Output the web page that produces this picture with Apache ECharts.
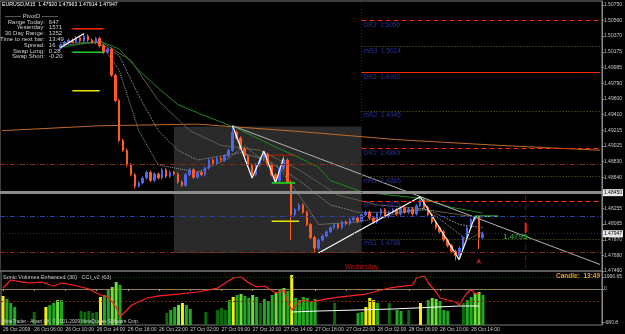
<!DOCTYPE html>
<html><head><meta charset="utf-8">
<script src="https://cdn.jsdelivr.net/npm/echarts@6/dist/echarts.min.js"></script>
<style>html,body{margin:0;padding:0;background:#000;}#c{width:625px;height:334px;}</style>
</head><body><div id="c"></div>
<script>
// ---------------- data ----------------
const slotCount = 154;                       // M30 slots across the chart
const timeTickLabels = ['26 Oct 2009','26 Oct 06:00','26 Oct 10:00','26 Oct 14:00','26 Oct 18:00','26 Oct 22:00',
  '27 Oct 02:00','27 Oct 06:00','27 Oct 10:00','27 Oct 14:00','27 Oct 18:00','27 Oct 22:00',
  '28 Oct 02:00','28 Oct 06:00','28 Oct 10:00','28 Oct 14:00'];
const priceTicks = [1.50750,1.50560,1.50370,1.50175,1.49985,1.49790,1.49600,1.49410,1.49215,1.49025,
  1.48830,1.48640,1.48450,1.48255,1.48065,1.47870,1.47680,1.47490];
const subTickValues = [100, 0, -280];
const subTickLabels = ['1966.65', '0', '-680.8'];

const firstCandleSlot = 15;
const firstOpen = 1.5022;
const closes = [
 1.5026,1.5029,1.5032,1.5030,1.5035,1.5031,1.5037,1.5032,1.5029,1.5034,
 1.5025,1.5017,1.5021,1.4989,1.4958,1.4909,1.4897,1.4879,1.4867,1.4853,
 1.4857,1.4863,1.4870,1.4860,1.4868,1.4863,1.4873,1.4865,1.4870,1.4868,
 1.4858,1.4854,1.4867,1.4873,1.4864,1.4870,1.4867,1.4875,1.4885,1.4881,
 1.4887,1.4885,1.4890,1.4897,1.4919,1.4912,1.4899,1.4890,1.4879,1.4867,
 1.4879,1.4887,1.4892,1.4879,1.4867,1.4860,1.4875,1.4885,1.4858,1.4818,
 1.4824,1.4830,1.4821,1.4806,1.4790,1.4777,1.4787,1.4792,1.4797,1.4802,
 1.4806,1.4802,1.4809,1.4807,1.4812,1.4814,1.4810,1.4818,1.4821,1.4814,
 1.4809,1.4819,1.4824,1.4816,1.4821,1.4824,1.4819,1.4826,1.4821,1.4825,
 1.4819,1.4829,1.4836,1.4827,1.4818,1.4809,1.4802,1.4797,1.4787,1.4780,
 1.4773,1.4768,1.4777,1.4790,1.4802,1.4812,1.4814,1.4790,1.4795];
const spikeHighs = [[21,1.5040],[59,1.4927],[107,1.4840],[72,1.4890]];
const spikeLows  = [[34,1.4850],[74,1.4787],[80,1.4771],[116,1.4762],[122,1.4776]];
const wick = 0.0002;

const maOrange = [[0,1.4921],[25,1.4927],[50,1.4929],[76,1.4920],[101,1.4910],[127,1.4903],[153,1.4897]];
const maGreen  = [[15,1.5023],[25,1.5031],[30,1.5021],[35,1.4995],[40,1.4973],[45,1.4953],[50,1.4943],[60,1.4924],
  [70,1.4901],[76,1.4888],[81,1.4876],[84,1.4860],[92,1.4846],[107,1.4838],[115,1.4827],[123,1.4820]];
const maGray1 = [[15,1.5029],[25,1.5029],[30,1.4995],[35,1.4921],[40,1.4879],[50,1.4870],[58,1.4887],[62,1.4903],
  [66,1.4887],[71,1.4875],[76,1.4842],[81,1.4806],[91,1.4809],[101,1.4819],[108,1.4826],[113,1.4809],[119,1.4787],[123,1.4797]];
const maGray2 = [[15,1.5026],[25,1.5029],[30,1.5013],[35,1.4964],[40,1.4921],[45,1.4897],[50,1.4885],[61,1.4894],
  [68,1.4885],[76,1.4860],[84,1.4830],[91,1.4821],[101,1.4821],[109,1.4824],[117,1.4806],[123,1.4802]];
const maGray3 = [[25,1.5031],[33,1.5007],[40,1.4958],[48,1.4921],[56,1.4903],[66,1.4897],[76,1.4873],[86,1.4842],
  [96,1.4830],[106,1.4826],[117,1.4818],[123,1.4814]];

const pivotNames  = ['DR3','mR3','DR2','mR2','DR1','mR1','DPV','mS1'];
const pivotValues = [1.5056,1.5024,1.4992,1.4945,1.4899,1.4865,1.4835,1.4788];
const pivotStartSlot = 92, lastSlot = 153;
const prevDay = {fromSlot:44, toSlot:92, high:1.4926, low:1.4771};
const fullLevels = [1.4880, 1.4816, 1.4772];
const grayLevel = 1.4845, bidPrice = 1.47947;

const whiteTrend1 = [[15,1.5023],[21,1.5040]];
const grayTrend   = [[59,1.4927],[153,1.4757]];
const whiteTrend2 = [[81,1.4771],[107,1.4840]];
const zigzag1 = [[59,1.4927],[64,1.4863],[67,1.4896],[70,1.4857],[72,1.4887]];
const zigzag2 = [[107,1.4840],[117,1.4763],[121,1.4816]];
const segRed    = [[18,1.5046],[26,1.5046]];
const segGreen  = [[18,1.5017],[26,1.5017]];
const segYellow = [[18,1.4970],[25,1.4970]];
const segGreen2 = [[69,1.4857],[75,1.4857]];
const segYellow2= [[69,1.4810],[76,1.4810]];
const segRedDot = [[69,1.4891],[75,1.4891]];
const segLime   = [[121,1.4816],[127,1.4816]];
const timerBar  = [[134,1.4808],[134,1.4796]];
const timerLine = [[134,1.4842],[134,1.4753]];
const fractalArrow = [[122,1.4765]];

const volumes = [
 29,26,22,18,0,0,0,0,13,0,
 0,18,20,22,25,25,0,0,0,0,
 14,13,14,12,13,28,30,35,38,43,
 40,0,0,0,0,0,0,0,0,0,
 0,0,12,15,18,20,22,20,16,0,
 0,0,13,0,0,15,17,15,25,28,
 30,31,29,27,30,28,22,26,24,30,
 32,36,37,34,50,27,25,28,27,24,
 26,0,0,0,0,22,0,0,0,0,
 0,12,13,18,27,25,22,0,0,22,
 0,15,14,0,15,0,0,22,0,25,
 27,26,24,15,14,0,0,0,22,25,
 28,32,33,30];
const volumeKinds = 'Yggg----d-' + '-Ygglg----' + 'dddddYggll' + 'g---------' + '--dgglYgg-' +
  '--d--dddgY' + 'glgglgdggg' + 'lglgYggggg' + 'g----d----' + '-ggYYYg--d' + '-gg-d--Y-g' + 'llggg---dg' + 'gllg';
const volumeAvg = [[74,13],[81,14],[100,16],[117,19],[122,19]];
const cciPoints = [[0,8],[2,75],[5,58],[7,50],[10,58],[12,33],[13,25],[15,50],[18,33],[20,17],[22,0],[25,-50],[27,-67],
  [29,-150],[30,-233],[31,-200],[33,-133],[37,-75],[40,-58],[45,-42],[50,-25],[55,8],[59,92],[61,100],[63,50],[65,17],
  [67,25],[70,-33],[72,-8],[73,-117],[74,-175],[76,-108],[77,-92],[79,-108],[83,-83],[86,-67],[89,-58],[93,-42],
  [95,-25],[99,8],[101,17],[105,33],[106,92],[108,108],[109,50],[111,-25],[112,-75],[114,-92],[116,-108],[117,-133],
  [118,-75],[119,-33],[120,0],[121,-42],[122,-33]];

// ---------------- build ----------------
const FONT = '"Liberation Sans", Arial, sans-serif';
const cats = Array.from({length: slotCount}, (_, i) => String(i));
const candleData = cats.map(() => '-');
let prev = firstOpen;
closes.forEach((c, k) => {
  const s = firstCandleSlot + k;
  let hi = Math.max(prev, c) + wick, lo = Math.min(prev, c) - wick;
  spikeHighs.forEach(p => { if (p[0] === s) hi = Math.max(hi, p[1]); });
  spikeLows.forEach(p => { if (p[0] === s) lo = Math.min(lo, p[1]); });
  candleData[s] = [prev, c, lo, hi];
  prev = c;
});
const kindColor = {Y:'#f2f200', g:'#22a822', l:'#6ee03c', d:'#0c6a0c'};
const volData = volumes.map((v, i) => v > 0 ? {value:[i, v], itemStyle:{color: kindColor[volumeKinds[i]]}} : null).filter(Boolean);

function lineS(data, color, width, type, z, extra) {
  return Object.assign({type:'line', xAxisIndex:0, yAxisIndex:0, data, symbol:'none', silent:true, z: z || 2,
    lineStyle:{color, width, type: type || 'solid'}, animation:false}, extra || {});
}
const dashDot = [5,2,1,2];
const pivotStyle = n => n[0] === 'D' ? {color:'#ff2a00', width:1.2, type: n === 'DR2' ? 'solid' : [5,3]}
  : n === 'DPV' ? {color:'#2b2bd0', width:1.2, type:'solid'} : {color:'#6b6b22', width:1, type:[1,2]};

const pivotLines = pivotNames.map((n, k) => [
  {coord:[pivotStartSlot, pivotValues[k]], lineStyle: pivotStyle(n),
   label:{show:true, position:'insideStartBottom', distance:[2,1], formatter: n + '  ' + pivotValues[k].toFixed(4),
     color:'#2a3494', fontSize:6.5, fontFamily: FONT}},
  {coord:[lastSlot, pivotValues[k]]}]);

const holder = {
  type:'line', xAxisIndex:0, yAxisIndex:0, data:[], z:1, silent:true, animation:false,
  markArea:{silent:true, itemStyle:{color:'#2a2a2a'},
    data:[[{coord:[prevDay.fromSlot, prevDay.high]}, {coord:[prevDay.toSlot, prevDay.low]}]]},
  markLine:{silent:true, symbol:'none', animation:false, precision:5, label:{show:false},
    data: [
      {yAxis: fullLevels[0], lineStyle:{color:'#8a3010', width:1, type:dashDot}},
      {yAxis: fullLevels[1], lineStyle:{color:'#3040a8', width:1, type:dashDot}},
      {yAxis: fullLevels[2], lineStyle:{color:'#8a3010', width:1, type:dashDot}},
      {yAxis: bidPrice, lineStyle:{color:'#303030', width:1, type:[1,2]},
        label:{show:true, position:'end', distance:1, formatter: bidPrice.toFixed(5), backgroundColor:'#e8e8e8',
          color:'#000', fontSize:5, fontFamily: FONT, padding:[1,1]}},
      {yAxis: grayLevel, lineStyle:{color:'#8c8c8c', width:3, type:'solid'},
        label:{show:true, position:'end', distance:1, formatter: '1.48450', backgroundColor:'#e8e8e8',
          color:'#000', fontSize:5, fontFamily: FONT, padding:[1,1]}},
      {xAxis: pivotStartSlot, lineStyle:{color:'#1c1c6a', width:1, type:[1,2]}}
    ].concat(pivotLines)}
};

const option = {
  backgroundColor:'#000',
  animation:false,
  textStyle:{fontFamily: FONT},
  grid:[
    {left:-1, right:20, top:1, height:270, show:true, borderColor:'#7a7a7a', borderWidth:1},
    {left:-1, right:20, top:271, height:54, show:true, borderColor:'#7a7a7a', borderWidth:1}
  ],
  xAxis:[
    {type:'category', gridIndex:0, data:cats, boundaryGap:true, axisLabel:{show:false}, axisTick:{show:false}, axisLine:{show:false}},
    {type:'category', gridIndex:1, data:cats, boundaryGap:true,
      axisLine:{show:true, lineStyle:{color:'#7a7a7a'}},
      axisTick:{show:true, length:2, alignWithLabel:true, lineStyle:{color:'#9a9a9a'},
        interval:(i) => i % 8 === 0 && i / 8 < timeTickLabels.length},
      axisLabel:{show:true, color:'#c8c8c8', fontSize:5, margin:2, align:'left', fontFamily: FONT,
        interval:(i) => i % 8 === 0 && i / 8 < timeTickLabels.length,
        formatter:(v, i) => timeTickLabels[i / 8] || ''}}
  ],
  yAxis:[
    {type:'value', gridIndex:0, position:'right', min:1.4749, max:1.50799, scale:true, splitLine:{show:false},
      axisLine:{show:true, lineStyle:{color:'#8a8a8a'}},
      axisTick:{show:true, length:2, customValues: priceTicks, lineStyle:{color:'#9a9a9a'}},
      axisLabel:{show:true, customValues: priceTicks, formatter: v => v.toFixed(5), color:'#c8c8c8', fontSize:5, margin:2, fontFamily: FONT}},
    {type:'value', gridIndex:1, position:'right', min:-300, max:150, splitLine:{show:false},
      axisLine:{show:true, lineStyle:{color:'#8a8a8a'}},
      axisTick:{show:true, length:2, customValues: subTickValues, lineStyle:{color:'#9a9a9a'}},
      axisLabel:{show:true, customValues: subTickValues, formatter: v => subTickLabels[subTickValues.indexOf(v)] || '',
        color:'#c8c8c8', fontSize:5, margin:2, fontFamily: FONT}},
    {type:'value', gridIndex:1, min:0, max:54, show:false}
  ],
  series:[
    holder,
    lineS(maOrange, '#c06a28', 1, 'solid', 2),
    lineS(maGray3, '#5d5d48', 1, 'solid', 2),
    lineS(maGray2, '#7c7c7c', 1, [2,1], 2),
    lineS(maGray1, '#9a9a9a', 1, [1,1], 2),
    lineS(maGreen, '#1c8a1c', 1, 'solid', 2),
    lineS(grayTrend, '#b4b4b4', 1, 'solid', 4),
    lineS(whiteTrend1, '#ffffff', 1.2, 'solid', 4),
    lineS(whiteTrend2, '#ffffff', 1.2, 'solid', 4),
    lineS(zigzag1, '#ffffff', 1.2, 'solid', 4),
    lineS(zigzag2, '#ffffff', 1.2, 'solid', 4),
    lineS(segRed, '#ff2a00', 1.5, 'solid', 4),
    lineS(segGreen, '#22d022', 1.5, 'solid', 4),
    lineS(segYellow, '#e6e600', 1.5, 'solid', 4),
    lineS(segGreen2, '#22c022', 2, 'solid', 4),
    lineS(segYellow2, '#e6e600', 1.5, 'solid', 4),
    lineS(segRedDot, '#d02010', 1.5, [1,1], 4),
    lineS(segLime, '#44e044', 1.5, 'solid', 4),
    lineS(timerLine, '#8a1010', 1, dashDot, 4),
    lineS(timerBar, '#ff2020', 2, 'solid', 4),
    {type:'scatter', xAxisIndex:0, yAxisIndex:0, data: fractalArrow, symbol:'arrow', symbolSize:[4,6], z:4, silent:true,
      itemStyle:{color:'#e02020'}},
    {type:'candlestick', xAxisIndex:0, yAxisIndex:0, data: candleData, z:3, silent:true, barMaxWidth:3, barMinWidth:2,
      itemStyle:{color:'#4a68e8', color0:'#ff5a22', borderColor:'#4a68e8', borderColor0:'#ff5a22', borderWidth:1}},
    {type:'bar', xAxisIndex:1, yAxisIndex:2, data: volData, barWidth:3, silent:true, z:2},
    {type:'line', xAxisIndex:1, yAxisIndex:1, silent:true, symbol:'none', z:3,
      lineStyle:{color:'#ff2020', width:1.2},
      data: cciPoints},
    {type:'line', xAxisIndex:1, yAxisIndex:1, silent:true, symbol:'none', z:1,
      data: [], markLine:{silent:true, symbol:'none', precision:3, label:{show:false}, data:[
        {yAxis:100, lineStyle:{color:'#0e5a0e', width:1, type:[1,2]}},
        {yAxis:0, lineStyle:{color:'#a8861a', width:1, type:[2,2]}},
        {yAxis:-100, lineStyle:{color:'#7a2a10', width:1, type:[2,2]}}]}},
    {type:'line', xAxisIndex:1, yAxisIndex:2, silent:true, symbol:'none', z:4,
      lineStyle:{color:'#ffffff', width:1}, data: volumeAvg}
  ],
  graphic:[
    {type:'text', left:2, top:2, z:10, style:{text:'EURUSD,M15  1.47920 1.47963 1.47914 1.47947', fill:'#ffffff', font:'5.2px ' + FONT}},
    {type:'text', left:5, top:13, z:10, style:{text:'-------- PivotD --------', fill:'#d0d0d0', font:'6px ' + FONT}},
    {type:'group', left:0, top:19, z:10, children:
      [['Range Today:','647'],['Yesterday:','1571'],['30 Day Range:','1252'],['Time to next bar:','13:49'],
       ['Spread:','16'],['Swap Long:','0.28'],['Swap Short:','-0.20']].flatMap((r, k) => [
        {type:'text', x:50, y:k * 5.8, style:{text:r[0], fill:'#d0d0d0', font:'6px ' + FONT, align:'right'}},
        {type:'text', x:54, y:k * 5.8, style:{text:r[1], fill:'#d0d0d0', font:'6px ' + FONT, align:'left'}}])},
    {type:'text', left:503, top:233, z:10, style:{text:'1.4795', fill:'#30c030', font:'8px ' + FONT}},
    {type:'text', left:345, top:264, z:10, style:{text:'Wednesday', fill:'#d01010', font:'6.3px ' + FONT}},
    {type:'text', left:3, top:274, z:10, style:{text:'Sonic Volumes Enhanced (30)   CCI_v2 (63)', fill:'#c8c8c8', font:'5.5px ' + FONT}},
    {type:'text', left:556, top:273, z:10, style:{text:'Candle:  13:49', fill:'#f0a028', font:'bold 6.5px ' + FONT}},
    {type:'text', left:2, top:319, z:10, style:{text:'MetaTrader - Alpari UK, \u00a9 2001-2009 MetaQuotes Software Corp.', fill:'#d0d0d0', font:'4.7px ' + FONT}}
  ]
};
const chart = echarts.init(document.getElementById('c'), null, {renderer:'canvas'});
chart.setOption(option);
</script></body></html>
